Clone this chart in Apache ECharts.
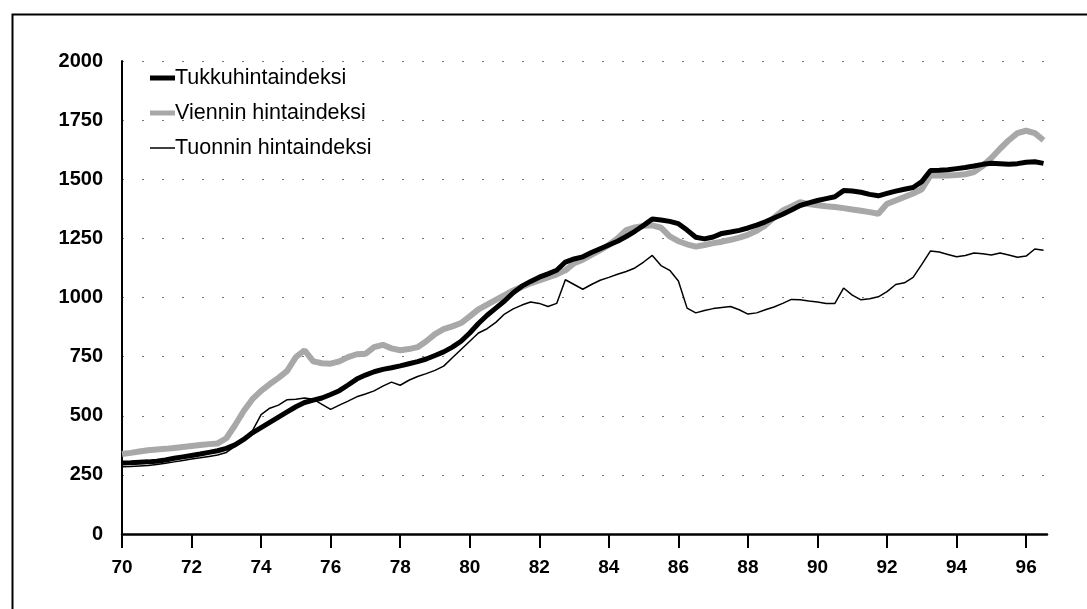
<!DOCTYPE html>
<html>
<head>
<meta charset="utf-8">
<script src="https://cdn.jsdelivr.net/npm/echarts@6/dist/echarts.min.js"></script>
<style>
html,body{margin:0;padding:0;background:#fff;}
#chart{width:1087px;height:609px;}
</style>
</head>
<body>
<div id="chart"></div>
<script>
var seriesNames = ['Tukkuhintaindeksi', 'Viennin hintaindeksi', 'Tuonnin hintaindeksi'];

var years = [];
for (var i = 0; i <= 106; i++) { years.push(70 + i * 0.25); }

var tukku = [
300,301,303,305, 308,313,320,326, 332,338,345,352, 362,377,400,428,
450,472,494,516, 538,556,566,575, 590,606,630,655, 672,686,696,703,
711,720,729,740, 755,770,790,815, 850,890,925,955, 985,1020,1048,1068,
1086,1100,1115,1150, 1163,1172,1190,1206, 1222,1238,1258,1280, 1305,1332,1328,1322,
1312,1285,1255,1248, 1256,1271,1277,1284, 1294,1306,1320,1336, 1352,1370,1389,1400,
1410,1418,1426,1452, 1450,1445,1436,1430, 1440,1450,1458,1465, 1490,1537,1538,1540,
1545,1550,1556,1563, 1568,1566,1563,1566, 1572,1574,1567
];

var viennin = [
338,343,349,354, 357,360,364,368, 372,376,380,383, 405,460,520,570,
605,634,660,690, 748,777,730,722, 720,730,748,760, 762,790,800,785,
777,782,790,815, 845,866,878,892, 920,950,970,990, 1010,1030,1045,1060,
1072,1085,1098,1115, 1145,1160,1180,1200, 1222,1250,1285,1296, 1303,1305,1295,1258,
1238,1225,1215,1222, 1230,1236,1244,1253, 1265,1282,1305,1338, 1368,1385,1403,1395,
1390,1386,1383,1378, 1372,1367,1361,1354, 1396,1410,1425,1440, 1458,1516,1517,1516,
1518,1521,1530,1556, 1590,1629,1665,1695, 1705,1695,1665
];

var tuonnin = [
284,285,288,290, 294,299,305,311, 317,322,328,334, 345,370,400,436,
505,532,545,568, 570,575,570,548, 527,545,562,580, 592,605,625,642,
629,650,666,678, 692,710,745,780, 815,850,868,895, 930,952,968,981,
975,962,975,1075, 1055,1035,1055,1073, 1085,1098,1110,1125, 1150,1178,1135,1115,
1070,955,935,945, 953,958,962,948, 930,935,948,960, 975,992,990,985,
981,975,975,1040, 1010,990,995,1003, 1025,1055,1062,1085, 1140,1197,1192,1182,
1172,1178,1188,1185, 1180,1188,1180,1170, 1175,1205,1200
];

var xTicks = [70,72,74,76,78,80,82,84,86,88,90,92,94,96];
var yTicks = [0,250,500,750,1000,1250,1500,1750,2000];

function pairs(vals) {
  return years.map(function (y, i) { return [y, vals[i]]; });
}

var font = 'Liberation Sans, Arial, Helvetica, sans-serif';
var chart = echarts.init(document.getElementById('chart'), null, {renderer: 'canvas'});
chart.setOption({
  animation: false,
  backgroundColor: '#fff',
  grid: {left: 122, top: 61, right: 40, bottom: 75, containLabel: false},
  graphic: [{
    type: 'rect', left: 10, top: 12,
    shape: {x: 0, y: 0, width: 1100, height: 620},
    style: {fill: 'none', stroke: '#000', lineWidth: 2},
    silent: true, z: 0
  }],
  legend: {
    orient: 'vertical', left: 145, top: 62,
    itemWidth: 25, itemHeight: 14, itemGap: 13,
    data: [
      {name: seriesNames[0], icon: 'path://M0,0h25v5h-25z', itemStyle: {color: '#000'}},
      {name: seriesNames[1], icon: 'path://M0,0h25v5h-25z', itemStyle: {color: '#a8a8a8'}},
      {name: seriesNames[2], icon: 'path://M0,0h25v1.5h-25z', itemStyle: {color: '#000'}}
    ],
    textStyle: {fontFamily: font, fontSize: 21.5, lineHeight: 22, color: '#000', padding: [0, 0, 0, -5]}
  },
  xAxis: {
    type: 'value', min: 70, max: 96.6, interval: 2,
    axisLine: {lineStyle: {color: '#000', width: 2.5}},
    axisTick: {show: true, length: 14, lineStyle: {color: '#000', width: 2}, customValues: xTicks},
    axisLabel: {
      customValues: xTicks, margin: 24, color: '#000',
      fontFamily: font, fontSize: 19, fontWeight: 'bold',
      formatter: function (v) { return String(v); }
    },
    splitLine: {show: false}
  },
  yAxis: {
    type: 'value', min: 0, max: 2000, interval: 250,
    axisLine: {show: true, lineStyle: {color: '#000', width: 2}},
    axisTick: {show: false},
    axisLabel: {
      customValues: yTicks, margin: 19, color: '#000',
      fontFamily: font, fontSize: 20, fontWeight: 'bold',
      formatter: function (v) { return String(v); }
    },
    splitLine: {show: true, lineStyle: {color: '#777', width: 1, type: [2, 18]}}
  },
  series: [
    {
      name: seriesNames[0], type: 'line', data: pairs(tukku),
      symbol: 'none', z: 4,
      lineStyle: {color: '#000', width: 5},
      itemStyle: {color: '#000'}
    },
    {
      name: seriesNames[1], type: 'line', data: pairs(viennin),
      symbol: 'none', z: 3,
      lineStyle: {color: '#a8a8a8', width: 6},
      itemStyle: {color: '#a8a8a8'}
    },
    {
      name: seriesNames[2], type: 'line', data: pairs(tuonnin),
      symbol: 'none', z: 5,
      lineStyle: {color: '#000', width: 1.5},
      itemStyle: {color: '#000'}
    }
  ]
});
</script>
</body>
</html>
